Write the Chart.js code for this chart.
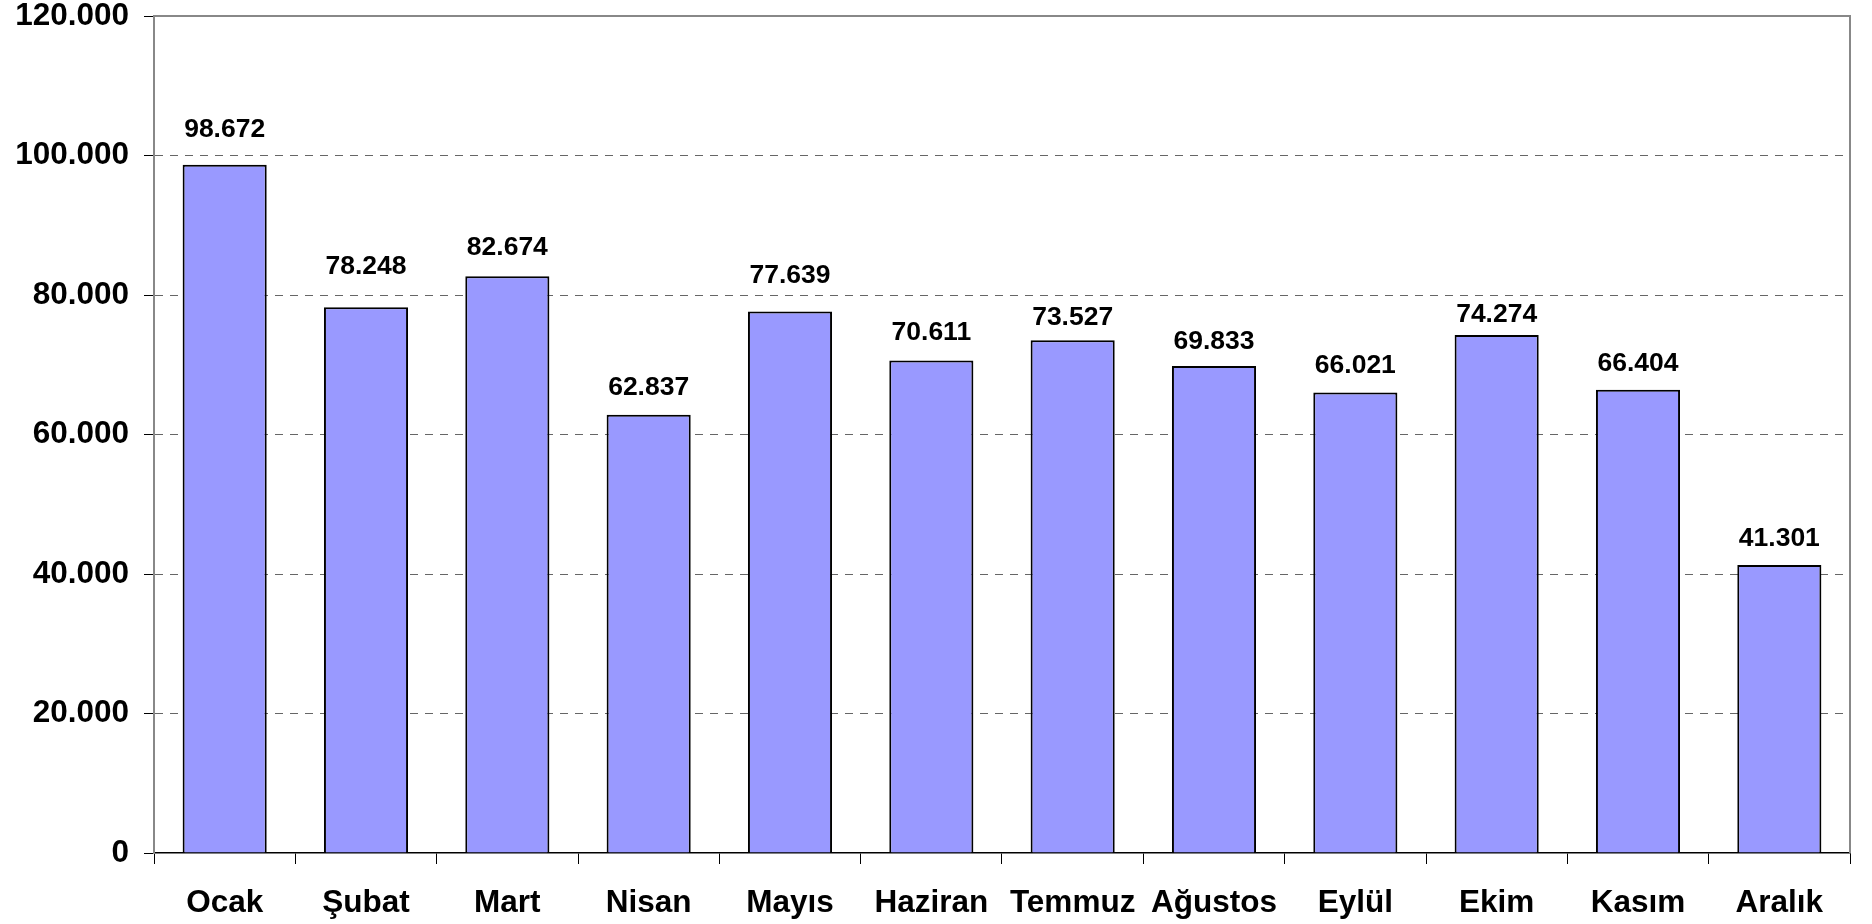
<!DOCTYPE html>
<html lang="tr">
<head>
<meta charset="utf-8">
<title>Aylık değerler</title>
<script src="https://cdn.jsdelivr.net/npm/chart.js@4/dist/chart.umd.min.js"></script>
<style>
  html, body { margin: 0; padding: 0; background: #fff; }
  canvas { display: block; }
</style>
</head>
<body>
<canvas id="chart" width="1872" height="924"></canvas>
<script>
const months = ["Ocak", "Şubat", "Mart", "Nisan", "Mayıs", "Haziran", "Temmuz", "Ağustos", "Eylül", "Ekim", "Kasım", "Aralık"];
const values = [98672, 78248, 82674, 62837, 77639, 70611, 73527, 69833, 66021, 74274, 66404, 41301];
const yTicks = [0, 20000, 40000, 60000, 80000, 100000, 120000];

// distance (px) between bar top and label baseline, as placed in the original
const labelLift = [28, 33, 21, 20, 28, 20, 15, 17, 20, 13, 19, 19];

const FONT = "Arial, 'Liberation Sans', sans-serif";

function fmt(n) {
  return String(n).replace(/\B(?=(\d{3})+(?!\d))/g, ".");
}

const valueLabels = {
  id: "valueLabels",
  afterDatasetsDraw(chart) {
    const ctx = chart.ctx;
    const meta = chart.getDatasetMeta(0);
    ctx.save();
    ctx.font = "bold 26.5px " + FONT;
    ctx.fillStyle = "#000";
    ctx.textAlign = "center";
    ctx.textBaseline = "alphabetic";
    meta.data.forEach((bar, i) => {
      ctx.fillText(fmt(values[i]), bar.x, bar.y - labelLift[i]);
    });
    ctx.restore();
  }
};

// grey frame on top and right of the plot area
const frame = {
  id: "frame",
  afterDraw(chart) {
    const { ctx, chartArea: a } = chart;
    ctx.save();
    ctx.strokeStyle = "#888";
    ctx.lineWidth = 2;
    ctx.beginPath();
    ctx.moveTo(a.left, a.top);
    ctx.lineTo(a.right, a.top);
    ctx.lineTo(a.right, a.bottom);
    ctx.stroke();
    ctx.restore();
  }
};

new Chart(document.getElementById("chart").getContext("2d"), {
  type: "bar",
  data: {
    labels: months,
    datasets: [{
      data: values,
      backgroundColor: "#9999FF",
      borderColor: "#000",
      borderWidth: 2,
      categoryPercentage: 1,
      barPercentage: 0.595
    }]
  },
  options: {
    responsive: false,
    animation: false,
    devicePixelRatio: 1,
    layout: { padding: { top: 16, right: 22, bottom: 0, left: 0 } },
    plugins: {
      legend: { display: false },
      tooltip: { enabled: false }
    },
    scales: {
      x: {
        offset: true,
        grid: {
          offset: true,
          drawOnChartArea: false,
          drawTicks: true,
          tickLength: 11,
          tickColor: "#000",
          tickWidth: 1
        },
        border: { color: "#000", width: 1.5 },
        ticks: {
          color: "#000",
          font: { family: FONT, size: 31.5, weight: "bold" },
          padding: 20,
          maxRotation: 0,
          autoSkip: false
        },
        afterFit(scale) {
          scale.height = 71;
          scale.paddingLeft = 0;
          scale.paddingRight = 0;
        }
      },
      y: {
        min: 0,
        max: 120000,
        afterBuildTicks(scale) {
          scale.ticks = yTicks.map(v => ({ value: v }));
        },
        grid: {
          color: c => (c.tick && (c.tick.value === 0 || c.tick.value === 120000)) ? "rgba(0,0,0,0)" : "#666",
          lineWidth: 1,
          tickLength: 10,
          tickColor: "#000",
          tickWidth: 1,
          tickBorderDash: []
        },
        border: { color: "#888", width: 2, dash: [8, 7] },
        ticks: {
          color: "#000",
          font: { family: FONT, size: 31.5, weight: "bold" },
          padding: 15,
          callback: v => fmt(v)
        },
        afterFit(scale) {
          scale.width = 154;
          scale.paddingTop = 0;
          scale.paddingBottom = 0;
        }
      }
    }
  },
  plugins: [valueLabels, frame]
});
</script>
</body>
</html>
